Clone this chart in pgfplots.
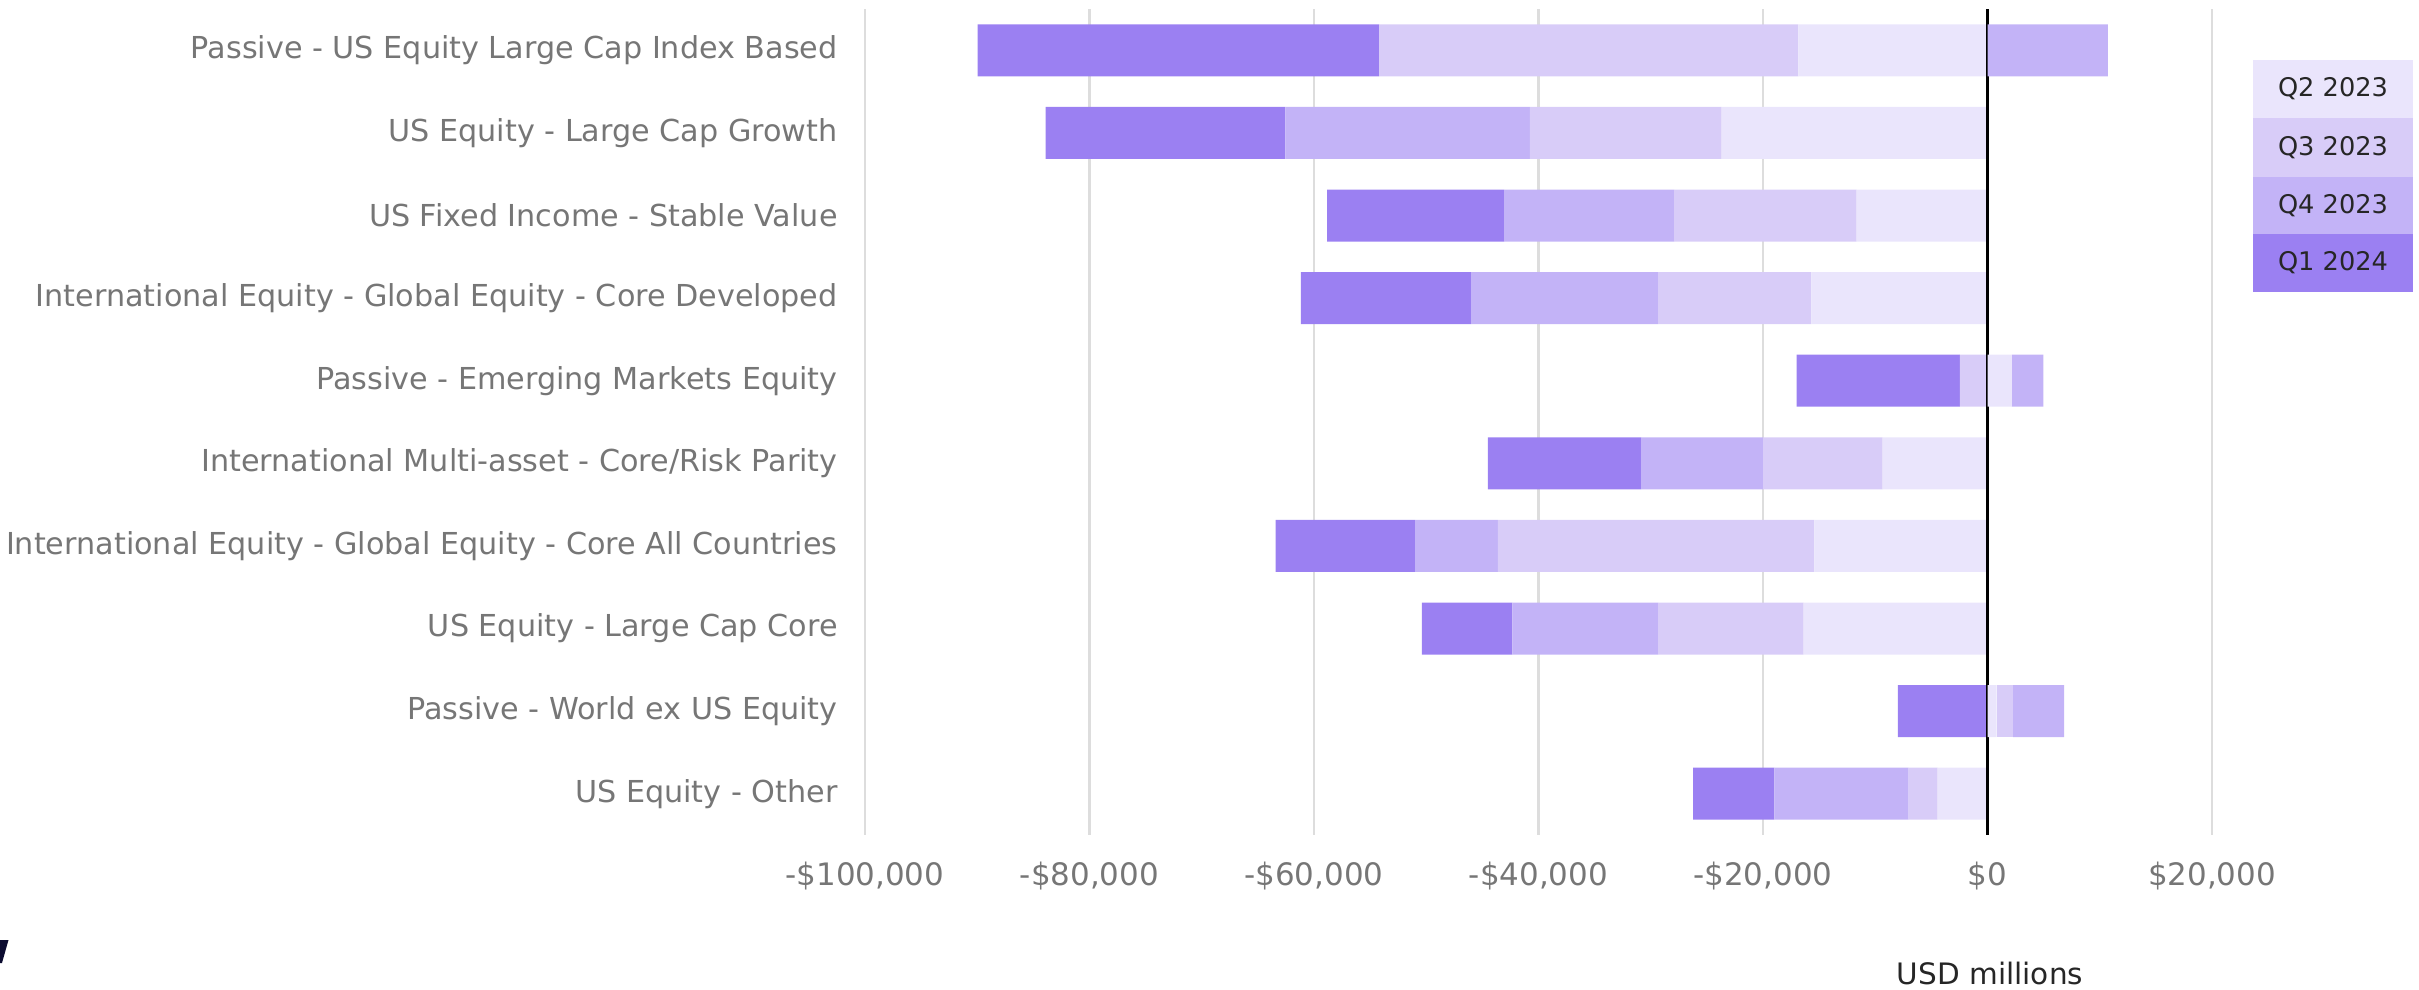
\documentclass[border=0pt]{standalone}
\usepackage{pgfplots}
\pgfplotsset{compat=1.18}
\usepackage{pgfplotstable}
\usepackage{fontspec}
\setmainfont{DejaVu Sans}
\definecolor{qtwo}{HTML}{EAE5FC}
\definecolor{qthree}{HTML}{D8CCF8}
\definecolor{qfour}{HTML}{C3B3F7}
\definecolor{qone}{HTML}{9B80F2}
\definecolor{labgray}{HTML}{767676}
\definecolor{gridgray}{HTML}{DDDDDD}
\definecolor{navy}{HTML}{0B0B30}

\pgfplotstableread{
y neg pos
0 -16860 0
1 -23690 0
2 -11670 0
3 -15700 0
4 0 2180
5 -9350 0
6 -15430 0
7 -16380 0
8 0 820
9 -4440 0
}\qtwotab
\pgfplotstableread{
y neg pos
0 -37340 0
1 -17070 0
2 -16250 0
3 -13650 0
4 -2460 0
5 -10650 0
6 -28190 0
7 -12970 0
8 0 1430
9 -2590 0
}\qthreetab
\pgfplotstableread{
y neg pos
0 0 10720
1 -21780 0
2 -15150 0
3 -16660 0
4 0 2800
5 -10850 0
6 -7370 0
7 -12970 0
8 0 4570
9 -11950 0
}\qfourtab
\pgfplotstableread{
y neg pos
0 -35770 0
1 -21370 0
2 -15770 0
3 -15150 0
4 -14540 0
5 -13650 0
6 -12420 0
7 -8060 0
8 -7990 0
9 -7240 0
}\qonetab

\pgfplotsset{base/.style={
  scale only axis, width=13.47cm, height=8.26cm,
  at={(8.65cm,1.54cm)}, anchor=south west,
  xmin=-100000, xmax=20000, ymin=-0.5, ymax=9.5, y dir=reverse,
  xbar stacked, bar width=0.52cm, scaled x ticks=false,
  axis line style={draw=none}, major tick length=0pt,
}}

\begin{document}
\begin{tikzpicture}
\path[use as bounding box] (0,0) rectangle (24.19cm,9.89cm);
\begin{axis}[base,
  xmajorgrids, grid style={color=gridgray, line width=0.6pt},
  xtick={-100000,-80000,-60000,-40000,-20000,0,20000},
  xticklabels={{-\$100,000},{-\$80,000},{-\$60,000},{-\$40,000},{-\$20,000},{\$0},{\$20,000}},
  xticklabel style={font=\fontsize{8.8pt}{10pt}\selectfont, text=labgray, yshift=-4pt},
  ytick={0,...,9},
  yticklabels={{Passive - US Equity Large Cap Index Based},{US Equity - Large Cap Growth},{US Fixed Income - Stable Value},{International Equity - Global Equity - Core Developed},{Passive - Emerging Markets Equity},{International Multi-asset - Core/Risk Parity},{International Equity - Global Equity - Core All Countries},{US Equity - Large Cap Core},{Passive - World ex US Equity},{US Equity - Other}},
  yticklabel style={font=\fontsize{8.6pt}{10pt}\selectfont, text=labgray, xshift=-0.15cm},
]
\addplot[fill=qtwo, draw=none] table[x=neg, y=y] {\qtwotab};
\addplot[fill=qthree, draw=none] table[x=neg, y=y] {\qthreetab};
\addplot[fill=qfour, draw=none] table[x=neg, y=y] {\qfourtab};
\addplot[fill=qone, draw=none] table[x=neg, y=y] {\qonetab};
\end{axis}
\begin{axis}[base, xtick=\empty, ytick=\empty]
\addplot[fill=qtwo, draw=none] table[x=pos, y=y] {\qtwotab};
\addplot[fill=qthree, draw=none] table[x=pos, y=y] {\qthreetab};
\addplot[fill=qfour, draw=none] table[x=pos, y=y] {\qfourtab};
\addplot[fill=qone, draw=none] table[x=pos, y=y] {\qonetab};
\draw[black, line width=0.6pt] (axis cs:0,-0.5) -- (axis cs:0,9.5);
\end{axis}
% legend
\fill[qtwo] (22.53cm,8.71cm) rectangle (24.13cm,9.29cm);
\fill[qthree] (22.53cm,8.12cm) rectangle (24.13cm,8.71cm);
\fill[qfour] (22.53cm,7.55cm) rectangle (24.13cm,8.12cm);
\fill[qone] (22.53cm,6.97cm) rectangle (24.13cm,7.55cm);
\begin{scope}[every node/.style={font=\fontsize{7.3pt}{9pt}\selectfont, text=black!85}]
\node at (23.33cm,9.00cm) {Q2 2023};
\node at (23.33cm,8.415cm) {Q3 2023};
\node at (23.33cm,7.835cm) {Q4 2023};
\node at (23.33cm,7.26cm) {Q1 2024};
\node[text=black!85, font=\fontsize{8.4pt}{10pt}\selectfont] at (19.90cm,0.16cm) {USD millions};
\end{scope}
\fill[navy] (0,0.49cm) -- (0.085cm,0.49cm) -- (0.02cm,0.26cm) -- (0,0.26cm) -- cycle;
\end{tikzpicture}
\end{document}
